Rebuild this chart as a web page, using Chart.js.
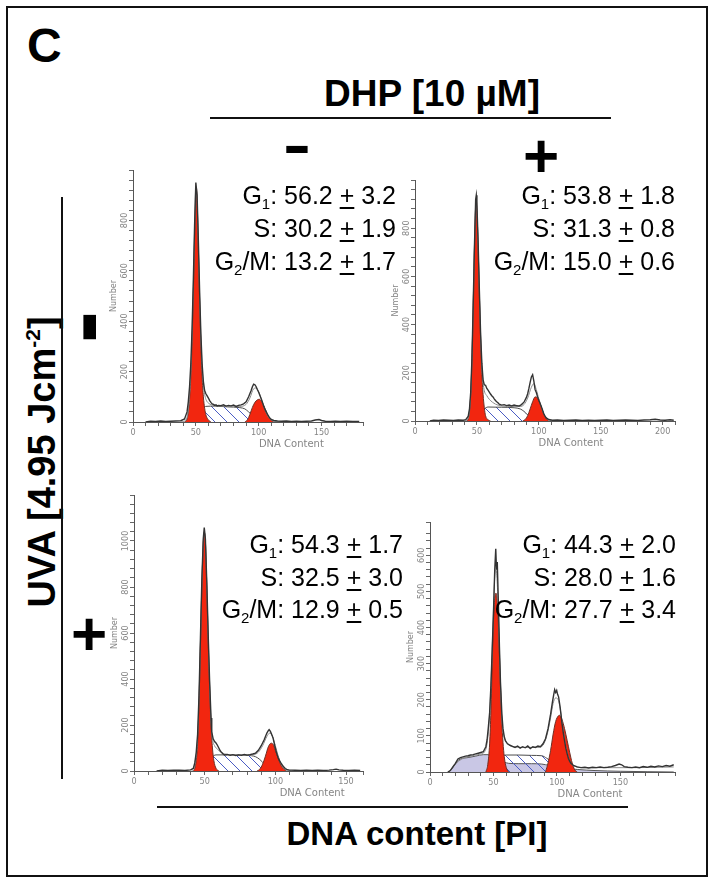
<!DOCTYPE html>
<html lang="en">
<head>
<meta charset="UTF-8">
<title>Cell cycle distribution - DHP / UVA</title>
<script src="https://cdn.jsdelivr.net/npm/chart.js"></script>
<style>
  body { margin: 0; background: #fff; font-family: 'Liberation Sans', Arial, sans-serif; }
  #fig { position: relative; width: 714px; height: 883px; overflow: hidden; background: #fff; }
  .frame { position: absolute; left: 6px; top: 6px; width: 698px; height: 867px; border: 2px solid #111; }
  canvas { position: absolute; }
  .t { position: absolute; line-height: 1; white-space: nowrap; color: #000; text-align: center; }
  .b { font-weight: bold; }
  .rule { position: absolute; background: #111; }
  .ann { position: absolute; font-size: 25px; line-height: 1; text-align: right; white-space: nowrap; z-index: 2; }
  .sub { font-size: 15px; position: relative; top: 5px; }
  .sup { font-size: 21px; position: relative; top: -15px; }
  .pm { text-decoration: underline; text-decoration-thickness: 1.5px; text-underline-offset: 3px; }
</style>
</head>
<body>
<div id="fig">
  <div class="frame"></div>
  <div class="t b" style="left:27px; top:22px; font-size:48px; text-align:left;">C</div>
  <div class="t b" style="left:232px; top:75px; width:400px; font-size:37px;">DHP [10 µM]</div>
  <div class="rule" style="left:210px; top:117px; width:401px; height:2px;"></div>
  <div class="t b" style="left:277px; top:115px; width:40px; font-size:60px; transform:scaleX(1.4);">-</div>
  <div class="t b" style="left:511px; top:125px; width:60px; font-size:62px;">+</div>
  <div class="t b" style="left:-138px; top:443px; width:360px; font-size:38px; transform:rotate(-90deg);">UVA [4.95 Jcm<span class="sup">-2</span>]</div>
  <div class="rule" style="left:61px; top:197px; width:2px; height:582px;"></div>
  <div class="t b" style="left:62px; top:297px; width:40px; font-size:60px; transform:rotate(-90deg) scale(1.6,1.75);">-</div>
  <div class="t b" style="left:59px; top:603px; width:60px; font-size:62px;">+</div>
  <div class="rule" style="left:157px; top:806px; width:471px; height:2px;"></div>
  <div class="t b" style="left:217px; top:817px; width:400px; font-size:33px;">DNA content [PI]</div>
</div>
<script>
// ---- data: [DNA content, Number] ----
// panel 1: DHP -, UVA -
const p1Raw = [[10,0],[14,3],[18,2],[22,4],[26,2],[30,3],[34,4],[38,5],[41,12],[43,40],[44,80],[45,140],[46,230],[47,370],[48,560],[49,780],[50,950],[51,900],[52,720],[53,520],[54,350],[55,230],[56,160],[57,125],[58,112],[59,104],[60,95],[61,85],[62,78],[63,72],[64,70],[65,66],[66,68],[67,64],[68,66],[70,65],[72,68],[74,63],[76,66],[78,64],[80,67],[82,62],[84,66],[86,68],[88,72],[90,80],[92,100],[94,125],[95,140],[96,150],[97,148],[98,140],[99,128],[100,118],[101,105],[102,92],[103,78],[104,62],[105,50],[106,40],[107,30],[108,22],[109,15],[110,10],[112,6],[115,4],[118,3],[122,4],[126,2],[130,3],[134,2],[138,3],[142,4],[145,8],[148,10],[150,6],[153,3],[157,2],[161,3],[165,2],[170,3],[175,2],[180,2]];
const p1Fit = [[38,0],[42,8],[44,50],[46,200],[47,350],[48,540],[49,760],[50,930],[51,880],[52,700],[53,500],[54,340],[55,220],[56,150],[57,110],[58,90],[60,75],[65,66],[75,63],[85,62],[90,70],[93,95],[96,132],[98,135],[100,120],[102,92],[104,62],[106,36],[108,18],[110,8],[113,2],[118,0]];
const p1G1 = [[41,0],[43,12],[44,40],[45,90],[46,180],[47,320],[48,510],[49,730],[50,900],[50.5,928],[51,880],[52,690],[53,480],[54,310],[55,180],[56,100],[57,55],[58,28],[60,8],[62,0]];
const p1G2 = [[89,0],[91,8],[93,30],[95,58],[97,78],[99,88],[100.5,90],[102,84],[104,66],[106,42],[108,20],[110,7],[112,0]];
const p1S = [[47,0],[50,12],[53,35],[56,55],[58,62],[65,63],[75,60],[85,57],[89,52],[92,40],[96,22],[100,10],[104,3],[107,0]];

// panel 2: DHP +, UVA -
const p2Raw = [[12,0],[15,3],[19,2],[23,4],[27,3],[31,2],[35,4],[39,3],[41,6],[43,20],[44,50],[45,120],[46,260],[47,480],[48,720],[49,920],[49.5,937],[50,900],[51,740],[52,540],[53,360],[54,240],[55,170],[56,150],[57,148],[58,135],[59,128],[60,120],[61,112],[62,105],[63,100],[64,92],[65,85],[66,80],[67,76],[68,70],[70,66],[72,68],[74,64],[76,66],[78,63],[80,66],[82,64],[84,62],[86,68],[88,78],[90,98],[91,113],[92,135],[93,160],[94,183],[95,192],[96,165],[97,130],[98,118],[99,100],[100,86],[101,74],[102,60],[103,46],[104,30],[105,20],[106,13],[108,6],[111,3],[115,4],[120,2],[125,3],[130,4],[135,2],[140,3],[145,2],[150,3],[155,4],[160,2],[165,3],[170,4],[175,3],[180,2],[185,4],[190,5],[194,7],[198,4],[202,3],[206,5],[209,3]];
const p2Fit = [[40,0],[43,12],[45,110],[46,250],[47,470],[48,710],[49,900],[49.5,920],[50,880],[51,720],[52,530],[53,360],[54,230],[55,160],[56,125],[58,105],[60,90],[65,70],[70,62],[80,60],[85,60],[88,68],[91,95],[94,140],[96,155],[98,130],[100,92],[102,58],[104,30],[106,12],[108,4],[112,0]];
const p2G1 = [[42,0],[43,10],[44,40],[45,110],[46,260],[47,480],[48,720],[49,890],[49.5,916],[50,880],[51,720],[52,520],[53,340],[54,200],[55,110],[56,55],[57,22],[59,5],[61,0]];
const p2G2 = [[87,0],[89,6],[91,22],[93,50],[95,80],[97,100],[98.5,98],[100,85],[102,58],[104,30],[106,10],[108,0]];
const p2S = [[47,0],[50,10],[53,30],[56,50],[59,58],[70,57],[80,55],[85,50],[88,40],[91,25],[94,12],[97,4],[100,0]];

// panel 3: DHP -, UVA +
const p3Raw = [[16,0],[20,3],[24,2],[28,4],[32,3],[36,2],[40,5],[42,12],[43,35],[44,80],[45,160],[46,330],[47,580],[48,830],[49,1010],[49.7,1058],[50.5,1010],[51.5,820],[52.5,590],[53.5,390],[54.5,230],[55,170],[56,140],[57,128],[58,122],[59,112],[60,100],[61,88],[62,80],[63,74],[64,70],[66,72],[68,68],[70,71],[72,67],[74,70],[76,68],[78,72],[80,69],[82,71],[84,74],[86,78],[88,90],[90,110],[92,135],[93,150],[94,165],[95,175],[95.6,180],[96.5,172],[97.5,158],[98.4,143],[99.5,112],[100.8,80],[102,58],[103,44],[104,34],[105,25],[106,17],[107,11],[108,7],[110,4],[114,3],[118,2],[122,3],[126,2],[130,3],[134,2],[138,4],[141,6],[143,8],[145,5],[148,3],[152,2],[156,3],[160,2]];
const p3Fit = [[41,0],[43,30],[45,150],[46,320],[47,560],[48,810],[49,990],[49.7,1040],[50.5,995],[51.5,810],[52.5,580],[53.5,380],[54.5,220],[55.5,140],[57,110],[59,95],[62,80],[66,72],[75,70],[84,70],[88,82],[91,110],[94,150],[96,165],[98,150],[100,110],[102,66],[104,32],[106,12],[108,4],[111,0]];
const p3G1 = [[42,0],[43,12],[44,45],[45,120],[46,300],[47,550],[48,800],[49,990],[49.7,1036],[50.5,1000],[51.5,800],[52.5,560],[53.5,360],[54.5,200],[55.5,100],[56.5,45],[58,12],[60,0]];
const p3G2 = [[87,0],[89,8],[91,30],[93,65],[95,105],[97,121],[98.5,115],[100,90],[102,55],[104,25],[106,8],[108,0]];
const p3S = [[46,0],[49,12],[52,35],[55,60],[58,70],[70,70],[80,68],[86,62],[89,50],[92,32],[95,15],[98,5],[101,0]];

// panel 4: DHP +, UVA +
const p4Raw = [[14,0],[16,4],[18,14],[20,24],[22,36],[24,40],[26,42],[28,44],[30,45],[32,47],[34,48],[36,50],[38,52],[40,54],[42,56],[44,70],[45,90],[46,125],[47,165],[48,240],[49,340],[50,440],[51,560],[51.8,618],[52.4,560],[53,581],[54,450],[54.7,346],[55.5,250],[56.6,161],[57.5,120],[58.5,98],[59.5,86],[61,78],[63,74],[65,71],[67,68],[69,72],[71,66],[73,70],[75,67],[77,72],[79,65],[81,70],[83,68],[85,72],[87,70],[89,78],[91,92],[93,120],[95,160],[96.5,195],[97.5,215],[98.2,228],[99,220],[99.8,226],[100.5,215],[101.3,208],[102.5,180],[104,134],[105,108],[106,86],[107,66],[108,51],[109,38],[110,30],[111,24],[113,18],[116,14],[119,12],[122,13],[125,11],[128,13],[131,12],[134,14],[137,12],[140,13],[143,15],[146,18],[149,22],[151,20],[153,15],[156,13],[159,12],[162,14],[165,12],[168,15],[171,13],[174,16],[177,14],[180,17],[183,15],[186,18],[189,16],[192,20]];
const p4Fit = [[15,0],[20,22],[25,36],[30,42],[35,46],[40,50],[43,56],[45,80],[47,160],[48,240],[49,340],[50,450],[51,540],[52,560],[53,520],[54,420],[55,300],[56,200],[57,130],[58.5,95],[61,80],[65,70],[75,68],[85,68],[89,74],[92,100],[95,150],[97,190],[99,205],[101,200],[103,165],[105,115],[107,70],[109,40],[111,24],[114,16],[120,12],[140,12],[160,12],[192,14]];
const p4G1 = [[44,0],[45.5,20],[47,80],[48,170],[49,300],[50,420],[51,480],[52,495],[53,470],[54,400],[55,290],[56,190],[57,110],[58,60],[59,30],[60.5,8],[62,0]];
const p4G2 = [[91,0],[93,25],[95,60],[97,105],[99,140],[101,155],[102,157],[104,145],[106,120],[108,88],[110,55],[112,25],[114,6],[116,0]];
const p4S = [[48,36],[51,40],[54,44],[57,46],[60,47],[70,47],[80,46],[88,45],[92,38],[96,28],[100,18],[104,10],[108,0]];
const p4Debris = [[15,0],[18,12],[21,28],[24,36],[30,40],[36,44],[42,48],[46,48],[50,44],[54,36],[58,28],[62,24],[70,23],[80,23],[88,22],[94,18],[100,14],[108,10],[116,7],[130,4],[150,2],[192,0]];

// axis ranges
const xMaxes = [183, 210, 162, 193];
const yMaxes = [1000, 1000, 1200, 692];
const yMinorSteps = [40, 40, 40, 20];
const yLabelSteps = [200, 200, 200, 100];

// phase percentages (mean, sd)
const phases = ['G1', 'S', 'G2/M'];
const means = [[56.2, 30.2, 13.2], [53.8, 31.3, 15.0], [54.3, 32.5, 12.9], [44.3, 28.0, 27.7]];
const sds = [[3.2, 1.9, 1.7], [1.8, 0.8, 0.6], [1.7, 3.0, 0.5], [2.0, 1.6, 3.4]];

// ---- layout ----
// chart areas: [y-axis x, top, right, x-axis y]
const areas = [[133, 170, 363, 422], [415, 180, 675, 421], [134, 495, 363, 771], [430, 522, 675, 772]];
const annRight = [396, 675, 403, 676];
const annBase = [[204, 237, 270], [204, 237, 270], [553, 586, 618], [553, 586, 618]];

const PAD_T = 4, PAD_R = 4, Y_W = 30, X_H = 16, PAD_B = 14;
const RED = '#f2260f';
const NARROW = "'Liberation Sans Narrow', 'DejaVu Sans Condensed', 'DejaVu Sans', sans-serif";
const fig = document.getElementById('fig');

function hatch() {
  const n = 12;
  const c = document.createElement('canvas');
  c.width = n; c.height = n;
  const g = c.getContext('2d');
  g.strokeStyle = '#4a5cc4';
  g.lineWidth = 1;
  g.beginPath();
  g.moveTo(0, 0); g.lineTo(n, n);
  g.moveTo(-1, n - 1); g.lineTo(1, n + 1);
  g.moveTo(n - 1, -1); g.lineTo(n + 1, 1);
  g.stroke();
  return g.createPattern(c, 'repeat');
}
const HATCH = hatch();

const pts = a => a.map(([x, y]) => ({ x, y }));

// rotated y tick labels + axis titles
const axisText = {
  id: 'axisText',
  afterDraw(chart, args, o) {
    const { ctx, chartArea: a, scales } = chart;
    const ys = scales.y, xs = scales.x;
    ctx.save();
    ctx.fillStyle = '#858585';
    ctx.font = '9px ' + NARROW;
    ctx.textAlign = 'center';
    ctx.textBaseline = 'alphabetic';
    ys.ticks.forEach(t => {
      if (t.value % o.every !== 0 || t.value >= ys.max) return;
      ctx.save();
      ctx.translate(a.left - 6.5, ys.getPixelForValue(t.value));
      ctx.rotate(-Math.PI / 2);
      ctx.fillText(String(t.value), 0, 0);
      ctx.restore();
    });
    ctx.font = "8px 'DejaVu Sans', sans-serif";
    ctx.save();
    ctx.translate(a.left - 17, (a.top + a.bottom) / 2);
    ctx.rotate(-Math.PI / 2);
    ctx.fillText('Number', 0, 0);
    ctx.restore();
    ctx.font = "10px 'DejaVu Sans', sans-serif";
    ctx.fillText('DNA Content', xs.getPixelForValue(126), a.bottom + 25);
    ctx.restore();
  }
};

function makePanel(i, raw, fit, g1, g2, s, debris) {
  const [ax, top, right, ay] = areas[i];
  const cv = document.createElement('canvas');
  cv.width = Y_W + (right - ax) + PAD_R;
  cv.height = PAD_T + (ay - top) + X_H + PAD_B;
  cv.style.left = (ax - Y_W) + 'px';
  cv.style.top = (top - PAD_T) + 'px';
  fig.appendChild(cv);

  const shape = { cubicInterpolationMode: 'monotone', fill: 'origin', borderWidth: 1 };
  const datasets = [
    { data: pts(raw), borderColor: '#333', borderWidth: 1.4, fill: false, tension: 0, order: 0 },
    { data: pts(fit), borderColor: '#8c8c8c', borderWidth: 1, fill: false, cubicInterpolationMode: 'monotone', order: 1 },
    { ...shape, data: pts(g1), borderColor: '#6e3026', backgroundColor: RED, order: 2 },
    { ...shape, data: pts(g2), borderColor: '#6e3026', backgroundColor: RED, order: 2 },
    { ...shape, data: pts(s), borderColor: '#4c4c4c', backgroundColor: HATCH, order: 3 }
  ];
  if (debris) {
    datasets.push({ ...shape, data: pts(debris), borderColor: '#555', backgroundColor: '#c9c7e5', order: 4 });
  }

  new Chart(cv, {
    type: 'line',
    data: { datasets },
    options: {
      responsive: false,
      animation: false,
      events: [],
      layout: { padding: { top: PAD_T, right: PAD_R, bottom: PAD_B, left: 0 } },
      elements: { point: { radius: 0 } },
      plugins: {
        legend: { display: false },
        tooltip: { enabled: false },
        axisText: { every: yLabelSteps[i] }
      },
      scales: {
        x: {
          type: 'linear', min: 0, max: xMaxes[i],
          afterFit: sc => { sc.height = X_H; },
          ticks: {
            stepSize: 10, autoSkip: false, maxRotation: 0, padding: 1, color: '#858585',
            font: { family: NARROW, size: 9 },
            callback: v => (v % 50 === 0 ? String(v) : '')
          },
          grid: { display: true, drawOnChartArea: false, drawTicks: true, tickLength: 4, color: '#666' },
          border: { display: true, color: '#555', width: 1 }
        },
        y: {
          type: 'linear', min: 0, max: yMaxes[i],
          afterFit: sc => { sc.width = Y_W; },
          ticks: { stepSize: yMinorSteps[i], display: false, autoSkip: false },
          grid: { display: true, drawOnChartArea: false, drawTicks: true, tickLength: 4, color: '#666' },
          border: { display: true, color: '#555', width: 1 }
        }
      }
    },
    plugins: [axisText]
  });

  // phase percentages
  phases.forEach((ph, k) => {
    const d = document.createElement('div');
    d.className = 'ann';
    d.style.right = (714 - annRight[i]) + 'px';
    d.style.top = (annBase[i][k] - 21.2) + 'px';
    const name = ph.replace(/^G(\d)/, 'G<span class="sub">$1</span>');
    d.innerHTML = name + ': ' + means[i][k].toFixed(1) + ' <span class="pm">+</span> ' + sds[i][k].toFixed(1);
    fig.appendChild(d);
  });
}

makePanel(0, p1Raw, p1Fit, p1G1, p1G2, p1S);
makePanel(1, p2Raw, p2Fit, p2G1, p2G2, p2S);
makePanel(2, p3Raw, p3Fit, p3G1, p3G2, p3S);
makePanel(3, p4Raw, p4Fit, p4G1, p4G2, p4S, p4Debris);
</script>
</body>
</html>
